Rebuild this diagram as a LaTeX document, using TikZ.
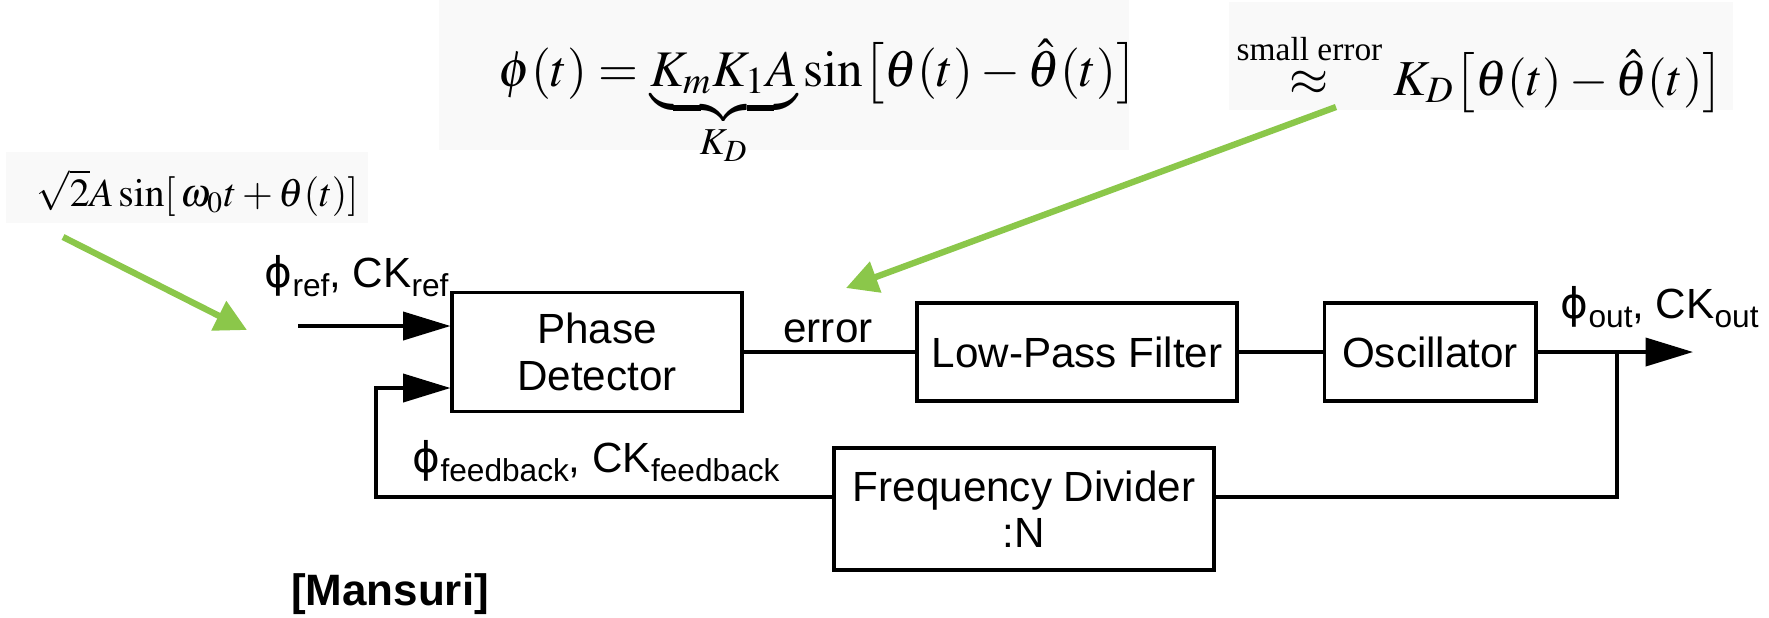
\documentclass[tikz,border=0pt]{standalone}
\usepackage{mathptmx}
\usepackage[no-math]{fontspec}
\setmainfont{Liberation Sans}
\newfontfamily\greekfont{DejaVu Sans}
\newfontfamily\serifface{Liberation Serif}
\usetikzlibrary{arrows.meta}
\definecolor{annot}{RGB}{139,199,74}
\definecolor{panel}{RGB}{249,249,249}
% signal label: phi_sub, CK_sub
\newcommand{\siglabel}[1]{{\greekfont ϕ}\raisebox{-2.8pt}{\fontsize{9}{9}\selectfont #1}, CK\raisebox{-2.8pt}{\fontsize{9}{9}\selectfont #1}}
\begin{document}
\begin{tikzpicture}[x=0.01cm,y=-0.01cm,
  blk/.style={draw,line width=1.1pt,align=center,inner sep=0pt,
    font=\fontsize{12}{13.2}\selectfont},
  wire/.style={line width=1pt},
  sigarrow/.style={wire,-{Triangle[length=13.5pt,width=8pt]}},
  note/.style={line width=1.8pt,draw=annot,-{Triangle[length=9pt,width=9pt]}},
  lbl/.style={font=\fontsize{12}{13.2}\selectfont,inner sep=0pt,anchor=base west},
  formula/.style={inner sep=0pt,anchor=base west}]
\useasboundingbox (0,0) rectangle (1769,617);
% light panels behind the formulas
\fill[panel] (439,0) rectangle (1129,150);
\fill[panel] (1229,2) rectangle (1733,110);
\fill[panel] (6,152) rectangle (368,223);
% formulas
\node[formula,font=\fontsize{14.6}{16}\selectfont] (eqa) at (498,86)
  {$\phi(t)=\underbrace{K_m K_1 A}_{K_D}\sin\bigl[\theta(t)-\hat{\theta}(t)\bigr]$};
\node[formula,font=\fontsize{14.3}{16}\selectfont] (eqb) at (1236,95)
  {$\stackrel{\mbox{\fontsize{9.5}{10}\serifface small error}}{\approx}K_D\bigl[\theta(t)-\hat{\theta}(t)\bigr]$};
\node[formula,font=\fontsize{11.3}{13}\selectfont] (eqc) at (36,206)
  {$\sqrt{2}A\sin[\,\omega_0 t+\theta(t)]$};
% blocks
\node[blk,minimum width=2.89cm,minimum height=1.19cm] (pd) at (597,352) {Phase\\Detector};
\node[blk,minimum width=3.20cm,minimum height=0.98cm] (lpf) at (1077,352) {Low-Pass Filter};
\node[blk,minimum width=2.11cm,minimum height=0.98cm] (osc) at (1430,352) {Oscillator};
\node[blk,minimum width=3.79cm,minimum height=1.22cm] (fd) at (1024,509) {Frequency Divider\\:N};
% connections
\coordinate (inp) at (298,326);
\coordinate (fbin) at (376,388);
\coordinate (fbl) at (376,497);
\coordinate (junc) at (1617,352);
\coordinate (outp) at (1693,352);
\draw[sigarrow] (inp) -- (inp -| pd.west);
\draw[sigarrow] (fd.west |- fbl) -- (fbl) -- (fbin) -- (fbin -| pd.west);
\draw[wire] (pd) -- (lpf);
\draw[wire] (lpf) -- (osc);
\draw[sigarrow] (osc) -- (outp);
\draw[wire] (junc) -- (junc |- fbl) -- (fd.east |- fbl);
% signal labels
\node[lbl] (lref) at (264,287) {\siglabel{ref}};
\node[lbl] (lfb) at (412,472) {\siglabel{feedback}};
\node[lbl] (lout) at (1560,318) {\siglabel{out}};
\node[lbl,anchor=base] (lerr) at (828,342) {error};
\node[inner sep=0pt,anchor=base,font=\fontsize{12.5}{14}\selectfont\bfseries] (src) at (390,605) {[Mansuri]};
% annotation arrows
\coordinate (n1s) at (63,237);
\coordinate (n1e) at (247,330);
\coordinate (n2s) at (1336,107);
\coordinate (n2e) at (846,288);
\draw[note] (n1s) -- (n1e);
\draw[note] (n2s) -- (n2e);
\end{tikzpicture}
\end{document}
